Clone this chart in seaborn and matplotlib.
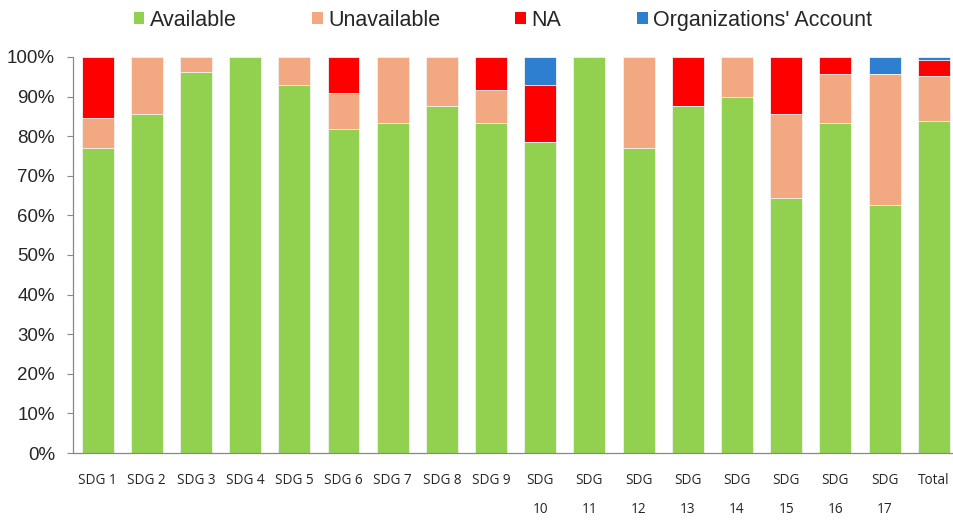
import numpy as np
import pandas as pd
import matplotlib
matplotlib.use('Agg')
import matplotlib.pyplot as plt
import seaborn as sns
from matplotlib.patches import Patch

# values in percent
categories = ['SDG 1', 'SDG 2', 'SDG 3', 'SDG 4', 'SDG 5', 'SDG 6', 'SDG 7', 'SDG 8', 'SDG 9',
              'SDG\n10', 'SDG\n11', 'SDG\n12', 'SDG\n13', 'SDG\n14', 'SDG\n15', 'SDG\n16', 'SDG\n17', 'Total']
available = [76.9, 85.7, 96.3, 100.0, 92.9, 81.8, 83.3, 87.5, 83.3,
             78.6, 100.0, 76.9, 87.5, 90.0, 64.3, 83.3, 62.5, 83.8]
unavailable = [7.7, 14.3, 3.7, 0.0, 7.1, 9.1, 16.7, 12.5, 8.3,
               0.0, 0.0, 23.1, 0.0, 10.0, 21.4, 12.5, 33.3, 11.3]
na = [15.4, 0.0, 0.0, 0.0, 0.0, 9.1, 0.0, 0.0, 8.4,
      14.3, 0.0, 0.0, 12.5, 0.0, 14.3, 4.2, 0.0, 4.0]
org_account = [0.0, 0.0, 0.0, 0.0, 0.0, 0.0, 0.0, 0.0, 0.0,
               7.1, 0.0, 0.0, 0.0, 0.0, 0.0, 0.0, 4.2, 0.9]

series = ['Available', 'Unavailable', 'NA', "Organizations' Account"]
colors = ['#92D050', '#F2A982', '#FF0000', '#2E7FD0']

df = pd.DataFrame({'cat': categories, 'Available': available, 'Unavailable': unavailable,
                   'NA': na, "Organizations' Account": org_account})
# cumulative tops, drawn from the tallest down so each layer covers the one behind
cum = df[series].cumsum(axis=1)

sns.set_style('white')
plt.rcParams['font.family'] = ['Liberation Sans', 'DejaVu Sans']

fig = plt.figure(figsize=(9.54, 5.22), dpi=100)
# axis runs a little past the right edge of the figure, like the reference
ax = fig.add_axes([0.0765, 0.132, 0.928, 0.759])

for name, col in reversed(list(zip(series, colors))):
    sns.barplot(x=df['cat'], y=cum[name], color=col, width=0.65, ax=ax, saturation=1,
                edgecolor='#f4f4f4', linewidth=0.6, order=categories)

ax.set_ylim(0, 100)
ax.set_xlim(-0.5, len(categories) - 0.5)
ax.set_yticks(np.arange(0, 101, 10))
ax.set_yticklabels([f'{v}%' for v in range(0, 101, 10)], fontsize=13.5)
ax.set_xlabel('')
ax.set_ylabel('')

ax.set_xticks(range(len(categories)))
ax.set_xticklabels(categories, fontsize=9.8, linespacing=2.35, va='top',
                   family=['Open Sans', 'DejaVu Sans'])
ax.set_xticks(np.arange(-0.5, len(categories), 1), minor=True)
ax.tick_params(axis='x', which='major', length=0, pad=14)
ax.tick_params(axis='x', which='minor', length=5, color='#888888', width=0.8)
ax.tick_params(axis='y', which='major', length=4, color='#888888', width=0.8, pad=9, left=True)

for s in ['top', 'right']:
    ax.spines[s].set_visible(False)
for s in ['left', 'bottom']:
    ax.spines[s].set_color('#888888')
    ax.spines[s].set_linewidth(0.9)

handles = [Patch(facecolor=c, edgecolor='none', label=n) for n, c in zip(series, colors)]
fig.legend(handles=handles, loc='upper center', bbox_to_anchor=(0.527, 1.018), ncol=4,
           frameon=False, fontsize=15.5, handlelength=0.5, handleheight=0.5,
           handletextpad=0.25, columnspacing=3.5)

fig.savefig('out.png', dpi=100)
